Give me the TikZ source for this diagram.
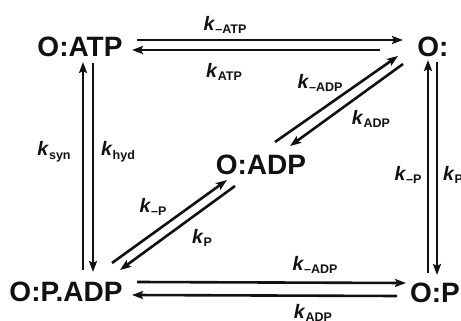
\documentclass[tikz,border=0pt]{standalone}
\usepackage{fontspec}
\setmainfont{Liberation Sans}
\usepackage{tikz}
\usetikzlibrary{arrows.meta,calc}
\definecolor{ink}{HTML}{111111}
\newcommand{\rk}[1]{\textbf{\textit{k}}\raisebox{-0.35ex}{\fontsize{12.5}{13}\selectfont\bfseries #1}}
\tikzset{
  state/.style={inner sep=0pt, text height=20pt, text depth=0pt, text=ink,
                font=\fontsize{28}{32}\selectfont\bfseries},
  rate/.style={inner sep=0pt, text=ink, font=\fontsize{19.5}{22}\selectfont},
  flow/.style={-{Stealth[length=11pt,width=8pt,inset=2pt]}, draw=ink, line width=2.6pt}
}

\begin{document}
\begin{tikzpicture}[x=1pt,y=-1pt]
  \useasboundingbox (0,0) rectangle (461,321);
  % states
  \node[state] (atp)  at (80,47)  {O:ATP};
  \node[state] (emp)  at (433,47) {O:};
  \node[state] (adp)  at (261,165) {O:ADP};
  \node[state] (padp) at (66,291) {O:P.ADP};
  \node[state] (op)   at (435,292) {O:P};

  % top pair
  \draw[flow] ($(atp)+(57,-7)$) -- ($(emp)+(-30,-7)$);
  \draw[flow] ($(emp)+(-53,3)$) -- ($(atp)+(52,3)$);
  % left pair
  \draw[flow] ($(padp)+(17,-21)$) -- ($(atp)+(3,15)$);
  \draw[flow] ($(atp)+(13,16)$) -- ($(padp)+(27,-19)$);
  % right pair
  \draw[flow] ($(op)+(-7,-19)$) -- ($(emp)+(-5,13)$);
  \draw[flow] ($(emp)+(4,15)$) -- ($(op)+(2,-17)$);
  % bottom pair
  \draw[flow] ($(padp)+(71,-9)$) -- ($(op)+(-29,-9)$);
  \draw[flow] ($(op)+(-38,4)$) -- ($(padp)+(66,4)$);
  % diagonals
  \draw[flow] ($(adp)+(14,-23)$) -- ($(emp)+(-35,9)$);
  \draw[flow] ($(emp)+(-30,17)$) -- ($(adp)+(29,-19)$);
  \draw[flow] ($(padp)+(46,-28)$) -- ($(adp)+(-34,15)$);
  \draw[flow] ($(adp)+(-26,21)$) -- ($(padp)+(54,-21)$);

  % rate constants
  \node[rate] (kmatp) at (225,25)  {\rk{\textendash ATP}};
  \node[rate] (katp)  at (224,72)  {\rk{ATP}};
  \node[rate] (kmadp) at (320,83)  {\rk{\textendash ADP}};
  \node[rate] (kadp)  at (371,119) {\rk{ADP}};
  \node[rate] (ksyn)  at (54,152)  {\rk{syn}};
  \node[rate] (khyd)  at (118,152) {\rk{hyd}};
  \node[rate] (kmpr)  at (408,175) {\rk{\textendash P}};
  \node[rate] (kpr)   at (453,175) {\rk{P}};
  \node[rate] (kmpd)  at (153,207) {\rk{\textendash P}};
  \node[rate] (kpd)   at (202,238) {\rk{P}};
  \node[rate] (kmadpb) at (315,265) {\rk{\textendash ADP}};
  \node[rate] (kadpb)  at (313,313) {\rk{ADP}};
\end{tikzpicture}
\end{document}
